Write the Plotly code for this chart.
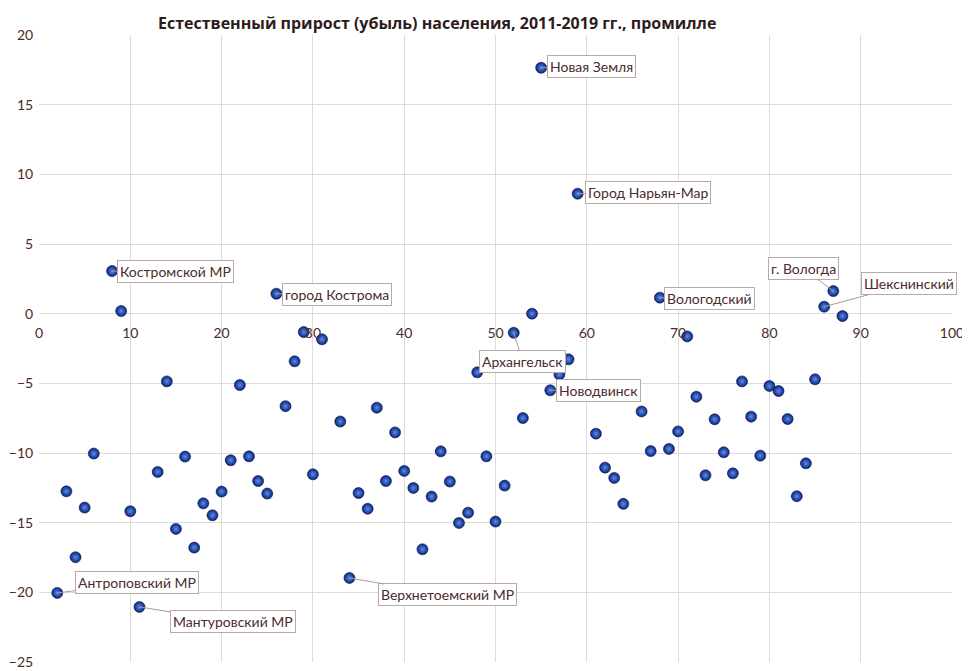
import plotly.graph_objects as go

# ---- data ----
region_index = [2, 3, 4, 5, 6, 8, 9, 10, 11, 13, 14, 15, 16, 17, 18, 19, 20, 21, 22, 23,
                24, 25, 26, 27, 28, 29, 30, 31, 33, 34, 35, 36, 37, 38, 39, 40, 41, 42, 43, 44,
                45, 46, 47, 48, 49, 50, 51, 52, 53, 54, 55, 56, 57, 58, 59, 61, 62, 63, 64, 66,
                67, 68, 69, 70, 71, 72, 73, 74, 75, 76, 77, 78, 79, 80, 81, 82, 83, 84, 85, 86,
                87, 88]
growth = [-20.04, -12.75, -17.48, -13.92, -10.04, 3.06, 0.19, -14.18, -21.05, -11.36,
          -4.86, -15.45, -10.26, -16.79, -13.61, -14.47, -12.77, -10.52, -5.12, -10.24,
          -12.01, -12.91, 1.43, -6.64, -3.42, -1.32, -11.53, -1.84, -7.74, -18.97,
          -12.87, -14.0, -6.75, -12.01, -8.52, -11.29, -12.51, -16.91, -13.13, -9.88,
          -12.05, -15.02, -14.28, -4.21, -10.24, -14.92, -12.34, -1.37, -7.49, 0.0,
          17.65, -5.50, -4.36, -3.28, 8.61, -8.61, -11.05, -11.79, -13.65, -7.02,
          -9.86, 1.15, -9.71, -8.45, -1.63, -5.96, -11.6, -7.58, -9.95, -11.46,
          -4.86, -7.39, -10.19, -5.19, -5.55, -7.56, -13.1, -10.74, -4.71, 0.50,
          1.62, -0.17]

label_index = [8, 26, 55, 59, 68, 87, 86, 52, 56, 34, 2, 11]
label_text = ["Костромской МР", "город Кострома", "Новая Земля", "Город Нарьян-Мар",
              "Вологодский", "г. Вологда", "Шекснинский", "Архангельск", "Новодвинск",
              "Верхнетоемский МР", "Антроповский МР", "Мантуровский МР"]

x_ticks = list(range(0, 101, 10))
y_ticks = list(range(-25, 21, 5))
title_text = "Естественный прирост (убыль) населения, 2011-2019 гг., промилле"

# ---- styling (label offsets in pixels) ----
label_offsets = {
    8: (63, 0), 26: (61, 1), 55: (50, -1), 59: (70, -1), 68: (50, 1),
    87: (-30, -23), 86: (85, -23), 52: (9, 29), 56: (48, 0), 34: (98, 17),
    2: (80, -10), 11: (94, 15),
}
text_color = "#4b2b2b"
grid_color = "#dcdcdc"
font_family = "Lato, 'Open Sans', sans-serif"
W, H = 970, 671
M = dict(l=30.5, r=25.7, t=26.5, b=17.2)

fig = go.Figure()
fig.add_trace(go.Scatter(
    x=region_index, y=growth, mode="markers",
    marker=dict(size=11, color="#0b2478",
                gradient=dict(type="radial", color="#5a8cf2"),
                line=dict(width=0.6, color="#061448")),
    hoverinfo="x+y", showlegend=False,
))

value_of = dict(zip(region_index, growth))
for idx, txt in zip(label_index, label_text):
    ax, ay = label_offsets[idx]
    fig.add_annotation(
        x=idx, y=value_of[idx], text=txt, showarrow=True,
        ax=ax, ay=ay, arrowhead=0, arrowwidth=1, arrowcolor="#a0a0a0",
        standoff=0, startstandoff=0,
        bgcolor="white", bordercolor="#bba9a9", borderwidth=1, borderpad=2,
        font=dict(family=font_family, size=14, color=text_color),
    )

# title as a paper annotation placed just inside the top edge
plot_h = H - M["t"] - M["b"]
fig.add_annotation(
    text="<b>" + title_text + "</b>", showarrow=False,
    xref="paper", yref="paper",
    x=(437 - 8 - M["l"]) / (W - M["l"] - M["r"]), xanchor="center",
    y=1 + (M["t"] - 1) / plot_h, yanchor="top",
    font=dict(family="'Open Sans', sans-serif", size=16, color="#2e1c1c"),
)

fig.update_layout(
    width=W, height=H,
    margin=dict(**M, autoexpand=False),
    paper_bgcolor="white", plot_bgcolor="white",
    font=dict(family=font_family, color=text_color),
    xaxis=dict(range=[0, 100], tickvals=x_ticks, showgrid=True, gridcolor=grid_color,
               gridwidth=1, zeroline=False, showline=False, automargin=False,
               anchor="free", position=25 / 45,
               ticks="outside", ticklen=7, tickcolor="rgba(0,0,0,0)",
               tickfont=dict(size=14, color=text_color)),
    yaxis=dict(range=[-25, 20], tickvals=y_ticks, showgrid=True, gridcolor=grid_color,
               gridwidth=1, zeroline=True, zerolinecolor=grid_color, zerolinewidth=1,
               showline=False, automargin=False,
               ticks="outside", ticklen=2, tickcolor="rgba(0,0,0,0)",
               tickfont=dict(size=14, color=text_color)),
)

fig.write_html("out.html")
